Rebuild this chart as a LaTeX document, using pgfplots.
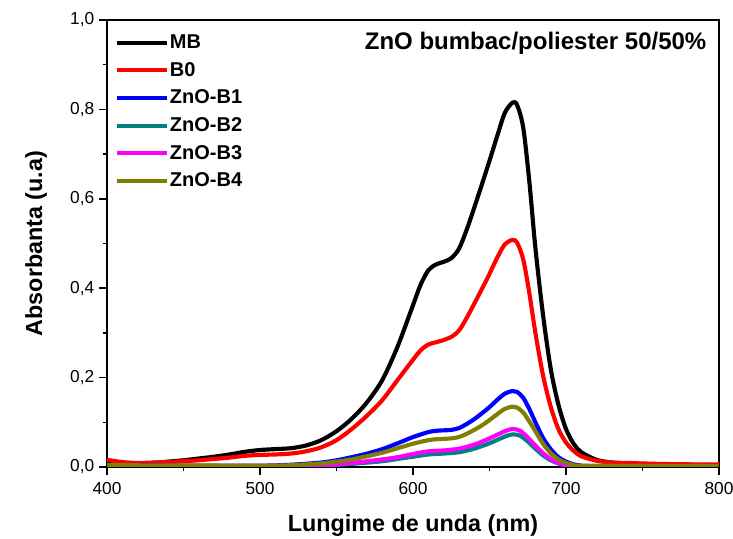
\documentclass[border=0pt]{standalone}
\usepackage{fontspec}
\setmainfont{Liberation Sans}
\usepackage{pgfplots}
\pgfplotsset{compat=1.18}
\definecolor{cteal}{RGB}{0,128,128}
\definecolor{colive}{RGB}{128,128,0}
\definecolor{cmag}{RGB}{255,0,255}
\definecolor{cred}{RGB}{255,0,0}
\definecolor{cblue}{RGB}{0,0,255}
\begin{document}
\begin{tikzpicture}
\useasboundingbox (0,0) rectangle (549.75pt,404.25pt);
\begin{axis}[
  at={(80.25pt,54pt)}, anchor=south west,
  scale only axis, width=459pt, height=335.25pt,
  xmin=400, xmax=800, ymin=0, ymax=1,
  xtick={400,500,600,700,800}, minor x tick num=1,
  ytick={0,0.2,0.4,0.6,0.8,1.0}, minor y tick num=1,
  tick pos=left, tick align=outside,
  major tick length=6pt, minor tick length=3.2pt,
  axis line style={line width=1.1pt},
  every tick/.style={line width=1.1pt, black},
  /pgf/number format/assume math mode=true,
  ticklabel style={font=\fontsize{13}{13}\selectfont},
  yticklabel style={/pgf/number format/.cd, fixed, fixed zerofill, precision=1, use comma},
  xticklabel style={yshift=-2pt},
  xlabel={\bfseries Lungime de unda (nm)},
  ylabel={\bfseries Absorbanta (u.a)},
  label style={font=\fontsize{17.5}{17.5}\selectfont},
  xlabel style={at={(axis description cs:0.5,-0.132)}, anchor=center},
  ylabel style={at={(axis description cs:-0.116,0.5)}, anchor=center},
  legend cell align=left,
  legend style={at={(axis description cs:0.012,0.972)}, anchor=north west, draw=none, fill=none,
    font=\bfseries\fontsize{15}{15}\selectfont, inner sep=0pt,
    row sep=5.7pt,
    nodes={inner sep=1pt, text height=11pt, text depth=2pt}},
  legend image code/.code={\draw[#1, line width=3pt] (0pt,0pt) -- (37.5pt,0pt);},
  every axis plot/.append style={line width=3.1pt, line join=round},
]
\addplot[black, smooth] coordinates {
(400,0.013) (410,0.009) (420,0.008) (430,0.009) (440,0.012) (450,0.015) (460,0.019) (470,0.023)
(480,0.028) (490,0.034) (500,0.038) (510,0.040) (520,0.042) (530,0.048) (540,0.060) (550,0.080)
(560,0.108) (570,0.145) (580,0.195) (590,0.270) (600,0.362) (605,0.408) (610,0.440) (615,0.453)
(620,0.459) (625,0.467) (630,0.488) (635,0.530) (640,0.580) (645,0.632) (650,0.685) (655,0.740) (660,0.792) (665,0.815)
(668,0.810) (672,0.760) (676,0.640) (680,0.490) (685,0.340) (690,0.220) (695,0.140) (700,0.085)
(705,0.052) (710,0.033) (720,0.016) (730,0.010) (740,0.008) (760,0.006) (780,0.005) (800,0.004)};
\addlegendentry{MB}
\addplot[cred, smooth] coordinates {
(400,0.016) (410,0.011) (420,0.009) (430,0.010) (440,0.011) (450,0.013) (460,0.015) (470,0.018)
(480,0.021) (490,0.025) (500,0.027) (510,0.028) (520,0.030) (530,0.035) (540,0.044) (550,0.060)
(560,0.085) (570,0.115) (580,0.150) (590,0.195) (600,0.240) (605,0.261) (610,0.274) (615,0.279)
(620,0.284) (625,0.291) (630,0.305) (635,0.333) (640,0.365) (645,0.398) (650,0.432) (655,0.468) (660,0.498) (665,0.508)
(668,0.502) (672,0.465) (676,0.390) (680,0.300) (685,0.205) (690,0.135) (695,0.085) (700,0.055)
(705,0.036) (710,0.024) (720,0.014) (730,0.010) (740,0.009) (760,0.007) (780,0.006) (800,0.006)};
\addlegendentry{B0}
\addplot[cblue, smooth] coordinates {
(400,0.004) (450,0.003) (500,0.003) (520,0.005) (540,0.010) (550,0.015) (560,0.022) (570,0.030)
(580,0.040) (590,0.053) (600,0.067) (610,0.078) (615,0.081) (620,0.082) (625,0.083) (630,0.087)
(635,0.096) (640,0.107) (645,0.120) (650,0.134) (655,0.150) (660,0.164) (665,0.170) (668,0.168) (672,0.155) (676,0.130)
(680,0.100) (685,0.065) (690,0.040) (695,0.022) (700,0.012) (705,0.006) (710,0.003) (720,0.002) (800,0.002)};
\addlegendentry{ZnO-B1}
\addplot[cteal, smooth] coordinates {
(400,0.001) (500,0.001) (540,0.003) (560,0.007) (580,0.013) (590,0.018) (600,0.023) (610,0.028)
(620,0.030) (630,0.033) (640,0.041) (650,0.053) (660,0.068) (665,0.073) (670,0.070) (675,0.057)
(680,0.041) (685,0.026) (690,0.015) (695,0.008) (700,0.004) (710,0.002) (800,0.001)};
\addlegendentry{ZnO-B2}
\addplot[cmag, smooth] coordinates {
(400,0.002) (500,0.002) (540,0.004) (560,0.009) (580,0.017) (590,0.022) (600,0.029) (610,0.035)
(620,0.037) (630,0.041) (640,0.050) (650,0.064) (660,0.080) (665,0.085) (670,0.081) (675,0.066)
(680,0.048) (685,0.031) (690,0.018) (695,0.009) (700,0.004) (710,0.002) (800,0.001)};
\addlegendentry{ZnO-B3}
\addplot[colive, smooth] coordinates {
(400,0.004) (500,0.003) (520,0.004) (540,0.008) (550,0.012) (560,0.017) (570,0.024) (580,0.032)
(590,0.042) (600,0.052) (610,0.060) (615,0.062) (620,0.063) (625,0.064) (630,0.067) (635,0.074) (640,0.083)
(645,0.093) (650,0.105) (655,0.118) (660,0.130) (665,0.135) (668,0.133) (672,0.122) (676,0.102) (680,0.080)
(685,0.052) (690,0.031) (695,0.017) (700,0.009) (705,0.005) (710,0.003) (800,0.002)};
\addlegendentry{ZnO-B4}
\node[anchor=east, font=\bfseries\fontsize{18}{18}\selectfont] at (axis description cs:0.987,0.9485) {ZnO bumbac/poliester 50/50\%};
\end{axis}
\end{tikzpicture}
\end{document}
